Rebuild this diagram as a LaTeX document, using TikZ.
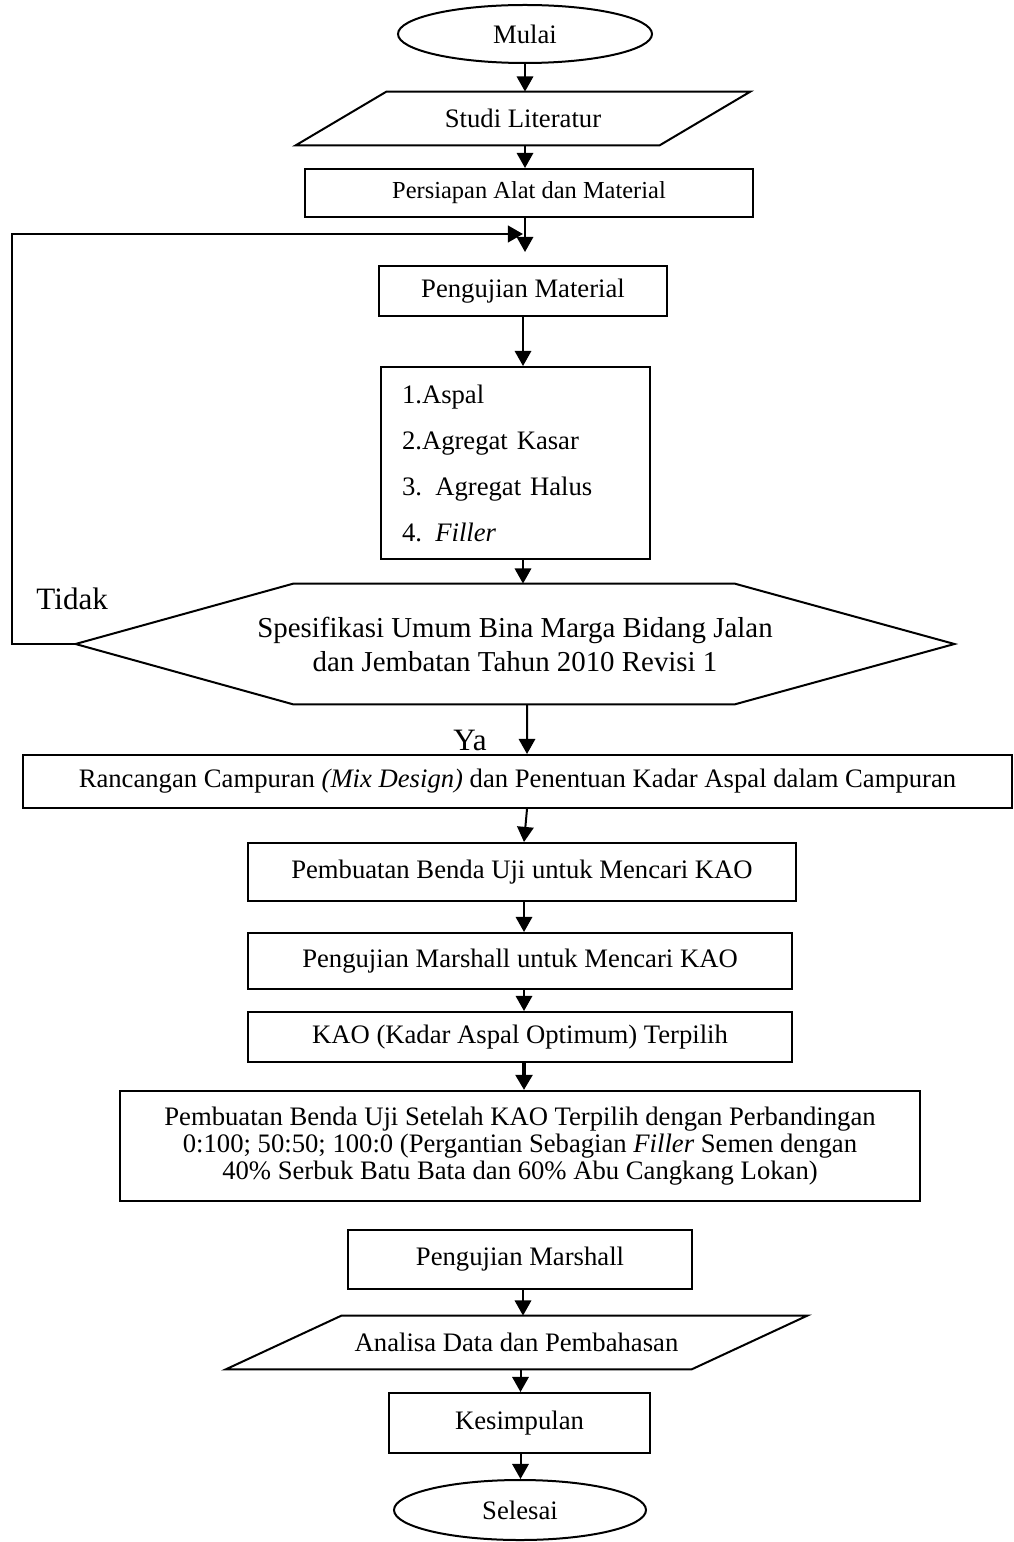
\documentclass[tikz,border=0pt]{standalone}
\usepackage{fontspec}
\setmainfont{Liberation Serif}
\usetikzlibrary{arrows.meta,shapes.geometric,calc}
\begin{document}
\begin{tikzpicture}[x=0.45pt,y=-0.45pt,
  lw/.style={line width=0.9pt},
  box/.style={draw,line width=0.9pt,rectangle,inner sep=0pt,align=center,font=\fontsize{12}{13}\selectfont},
  oval/.style={draw,line width=0.9pt,ellipse,inner sep=0pt,font=\fontsize{12}{13}\selectfont},
  plain/.style={inner sep=0pt,align=center,font=\fontsize{12}{13}\selectfont},
  arr/.style={line width=0.9pt,-{Triangle[length=6.8pt,width=7.4pt]}},
]
\useasboundingbox (0,0) rectangle (1014,1542);

% nodes
\node[oval,minimum width={254*0.45pt},minimum height={58*0.45pt}] (mulai) at (525,34) {Mulai};
\node[plain,minimum width={363*0.45pt},minimum height={53*0.45pt}] (studi) at (523,118.5) {Studi Literatur};
\draw[lw] ($(studi.north west)+(45.5,0)$) -- ($(studi.north east)+(45.5,0)$) -- ($(studi.south east)+(-45.5,0)$) -- ($(studi.south west)+(-45.5,0)$) -- cycle;
\node[box,font=\fontsize{11}{12}\selectfont,minimum width={448*0.45pt},minimum height={48*0.45pt}] (persiapan) at (529,193) {Persiapan Alat dan Material};
\node[box,minimum width={288*0.45pt},minimum height={50*0.45pt}] (pm) at (523,291) {Pengujian Material};
\node[box,align=left,text width={227*0.45pt},inner xsep={21*0.45pt},minimum height={192*0.45pt},font=\fontsize{12}{20.7}\selectfont] (list) at (515.5,463) {\mbox{1.Aspal}\\\mbox{2.Agregat Kasar}\\\mbox{3. Agregat Halus}\\\mbox{4. \textit{Filler}}};
\node[plain,font=\fontsize{13}{15.3}\selectfont,minimum width={878*0.45pt},minimum height={120*0.45pt}] (hex) at (515,644) {Spesifikasi Umum Bina Marga Bidang Jalan\\dan Jembatan Tahun 2010 Revisi 1};
\draw[lw] (hex.west) -- ($(hex.north west)+(218,0)$) -- ($(hex.north east)+(-220,0)$) -- (hex.east) -- ($(hex.south east)+(-220,0)$) -- ($(hex.south west)+(218,0)$) -- cycle;
\node[plain,font=\fontsize{14}{15}\selectfont,anchor=base west] (tidak) at (36,609) {Tidak};
\node[plain,font=\fontsize{14}{15}\selectfont,anchor=base west] (ya) at (453,750) {Ya};
\node[box,minimum width={989*0.45pt},minimum height={53*0.45pt}] (ranc) at (517.5,781.5) {Rancangan Campuran \textit{(Mix Design)} dan Penentuan Kadar Aspal dalam Campuran};
\node[box,minimum width={548*0.45pt},minimum height={58*0.45pt}] (pemb) at (522,872) {Pembuatan Benda Uji untuk Mencari KAO};
\node[box,minimum width={544*0.45pt},minimum height={56*0.45pt}] (pmk) at (520,961) {Pengujian Marshall untuk Mencari KAO};
\node[box,minimum width={544*0.45pt},minimum height={50*0.45pt}] (kao) at (520,1037) {KAO (Kadar Aspal Optimum) Terpilih};
\node[box,font=\fontsize{12}{12.2}\selectfont,minimum width={800*0.45pt},minimum height={110*0.45pt}] (big) at (520,1146) {Pembuatan Benda Uji Setelah KAO Terpilih dengan Perbandingan\\0:100; 50:50; 100:0 (Pergantian Sebagian \textit{Filler} Semen dengan\\40\% Serbuk Batu Bata dan 60\% Abu Cangkang Lokan)};
\node[box,minimum width={344*0.45pt},minimum height={59*0.45pt}] (pmar) at (520,1259.5) {Pengujian Marshall};
\node[plain,minimum width={465*0.45pt},minimum height={53*0.45pt}] (ana) at (516.5,1342.5) {Analisa Data dan Pembahasan};
\draw[lw] ($(ana.north west)+(58,0)$) -- ($(ana.north east)+(58,0)$) -- ($(ana.south east)+(-58,0)$) -- ($(ana.south west)+(-58,0)$) -- cycle;
\node[box,minimum width={261*0.45pt},minimum height={60*0.45pt}] (kes) at (519.5,1423) {Kesimpulan};
\node[oval,minimum width={252*0.45pt},minimum height={60*0.45pt}] (selesai) at (520,1510) {Selesai};

% connectors
\coordinate (fbA) at (12,644);
\coordinate (fbB) at (12,234);
\draw[arr] (mulai.south) -- (mulai.south |- studi.north);
\draw[arr] (studi.south -| mulai.south) -- (persiapan.north -| mulai.south);
\draw[arr] (persiapan.south -| mulai.south) -- ($(pm.north -| mulai.south)+(0,-13)$);
\draw[line width=1.3pt,-{Triangle[length=6.8pt,width=7.4pt]}] (hex.west) -- (fbA) -- (fbB) -- ($(fbB -| mulai.south)+(-2,0)$);
\draw[arr] (pm.south) -- (pm.south |- list.north);
\draw[arr] (list.south -| pm.south) -- (pm.south |- hex.north);
\draw[arr] ([xshift={12*0.45pt}]hex.south) -- ([xshift={9.5*0.45pt}]ranc.north);
\draw[arr] ([xshift={9.5*0.45pt}]ranc.south) -- ([xshift={2*0.45pt}]pemb.north);
\draw[arr] ([xshift={2*0.45pt}]pemb.south) -- ([xshift={2*0.45pt}]pemb.south |- pmk.north);
\draw[arr] ([xshift={4*0.45pt}]pmk.south) -- ([xshift={4*0.45pt}]pmk.south |- kao.north);
\draw[line width=1.8pt,-{Triangle[length=6.8pt,width=7.4pt]}] ([xshift={4*0.45pt}]kao.south) -- ([xshift={4*0.45pt}]kao.south |- big.north);
\draw[arr] ([xshift={3*0.45pt}]pmar.south) -- ([xshift={3*0.45pt}]pmar.south |- ana.north);
\draw[arr] ([xshift={1*0.45pt}]kes.north |- ana.south) -- ([xshift={1*0.45pt}]kes.north);
\draw[arr] ([xshift={1*0.45pt}]kes.south) -- ([xshift={1*0.45pt}]kes.south |- selesai.north);
\end{tikzpicture}
\end{document}
